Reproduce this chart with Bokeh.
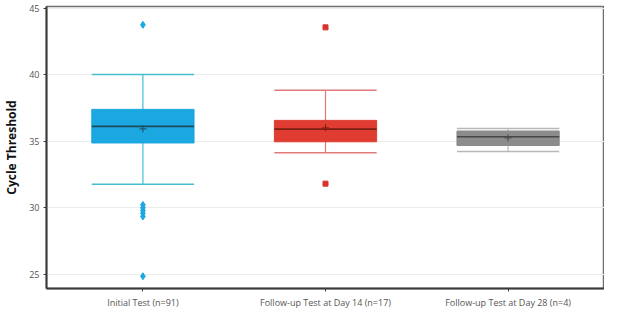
from bokeh.plotting import figure
from bokeh.models import ColumnDataSource, FixedTicker
from bokeh.embed import file_html
from bokeh.resources import INLINE

groups = ["Initial Test (n=91)", "Follow-up Test at Day 14 (n=17)", "Follow-up Test at Day 28 (n=4)"]
xpos = [1, 2, 3]
q1 = [34.88, 34.97, 34.69]
q3 = [37.41, 36.58, 35.78]
medians = [36.13, 35.92, 35.35]
means = [35.94, 36.02, 35.26]
lower = [31.77, 34.14, 34.24]
upper = [40.04, 38.84, 35.97]
box_colors = ["#1BA7E0", "#E03C31", "#8C8C8C"]
whisker_colors = ["#45BFD0", "#E07A78", "#B8B8B8"]
median_colors = ["#1C4A5C", "#7A1E14", "#474747"]

out_blue = [43.77, 30.22, 30.0, 29.8, 29.6, 29.35, 24.85]
out_red = [43.58, 31.82]

bw = 0.56

p = figure(width=604, height=311, output_backend="svg", toolbar_location=None,
           x_range=(0.472, 3.528), y_range=(23.93, 45.15),
           min_border_left=33, min_border_right=0, min_border_top=6, min_border_bottom=0)

src = ColumnDataSource(dict(x=xpos, q1=q1, q3=q3, med=medians, mean=means, lo=lower, hi=upper,
                            bc=box_colors, wc=whisker_colors, mc=median_colors,
                            left=[x - bw / 2 for x in xpos], right=[x + bw / 2 for x in xpos]))

# stems
p.segment(x0="x", y0="lo", x1="x", y1="hi", line_color="wc", line_width=1.2, source=src)
# caps
p.segment(x0="left", y0="hi", x1="right", y1="hi", line_color="wc", line_width=1.5, source=src)
p.segment(x0="left", y0="lo", x1="right", y1="lo", line_color="wc", line_width=1.5, source=src)
# boxes
p.quad(left="left", right="right", bottom="q1", top="q3", fill_color="bc", line_color="bc",
       line_width=1, source=src)
# medians
p.segment(x0="left", y0="med", x1="right", y1="med", line_color="mc", line_width=1.6, source=src)
# means
p.scatter(x="x", y="mean", marker="cross", size=7, line_color="mc", line_width=1, source=src)

# outliers
p.scatter(x=[1] * len(out_blue), y=out_blue, marker="diamond", size=7,
          fill_color="#1BA7E0", line_color="#1BA7E0")
p.scatter(x=[2] * len(out_red), y=out_red, marker="square", size=5,
          fill_color="#D8322A", line_color="#D8322A")

p.yaxis.ticker = FixedTicker(ticks=[25, 30, 35, 40, 45])
p.xaxis.ticker = FixedTicker(ticks=xpos)
p.xaxis.major_label_overrides = {x: g for x, g in zip(xpos, groups)}

p.xgrid.grid_line_color = None
p.ygrid.grid_line_color = "#ECECEC"
p.ygrid.grid_line_width = 1

for ax in (p.xaxis, p.yaxis):
    ax.axis_line_color = "#3A3A3A"
    ax.axis_line_width = 2
    ax.major_tick_line_color = "#3A3A3A"
    ax.major_tick_out = 3
    ax.major_tick_in = 0
    ax.minor_tick_line_color = None
    ax.major_label_text_font = "Open Sans"
    ax.major_label_text_font_size = "9px"
    ax.major_label_text_color = "#555555"
    ax.major_label_standoff = 4

p.yaxis.axis_label = "Cycle Threshold"
p.yaxis.axis_label_text_font = "Open Sans"
p.yaxis.axis_label_text_font_style = "bold"
p.yaxis.axis_label_text_font_size = "12px"
p.yaxis.axis_label_text_color = "#111111"
p.yaxis.axis_label_standoff = 6

p.outline_line_color = "#6E6E6E"
p.outline_line_width = 1.5
p.background_fill_color = "white"
p.border_fill_color = "white"

open("out.html", "w").write(file_html(p, INLINE))
